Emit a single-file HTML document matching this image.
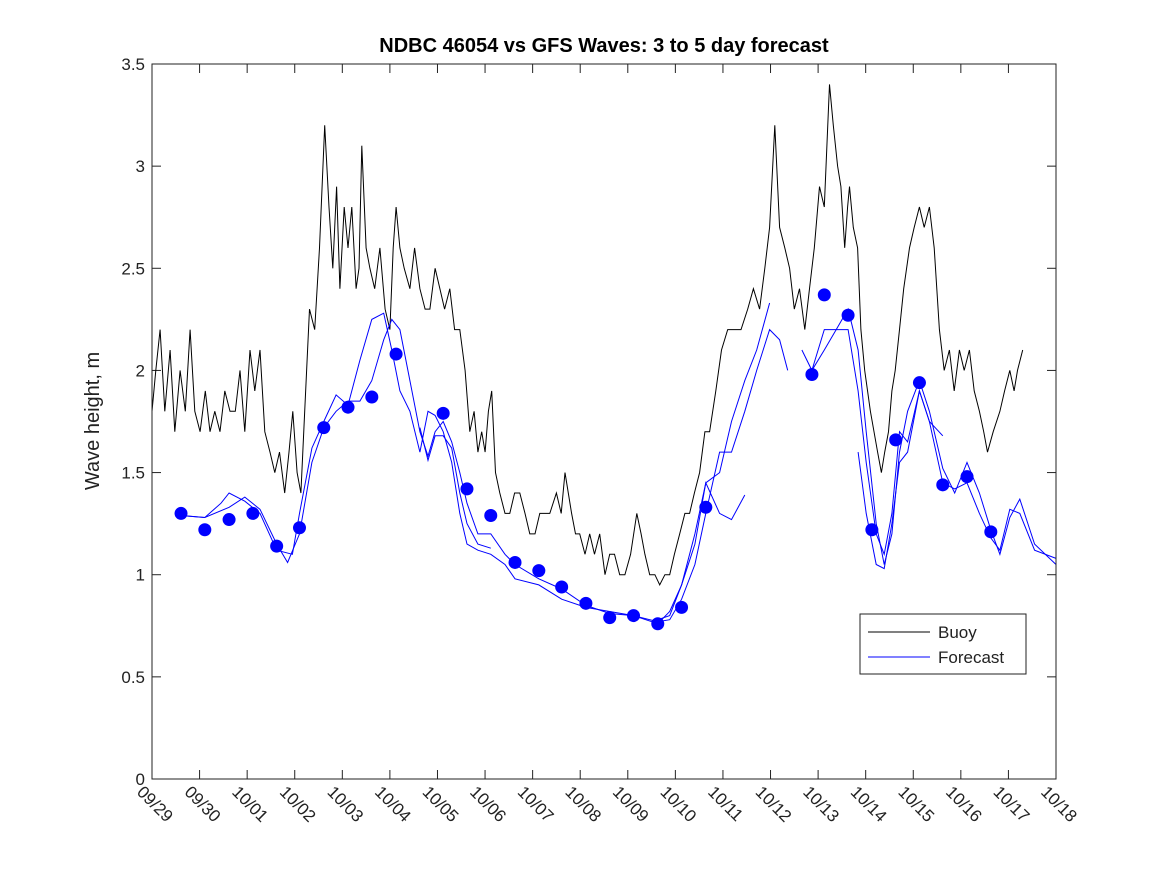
<!DOCTYPE html>
<html><head><meta charset="utf-8"><style>
body{margin:0;background:#fff;}
svg{display:block;font-family:"Liberation Sans","DejaVu Sans",sans-serif;}
</style></head><body>
<svg id="chart" width="1167" height="875" viewBox="0 0 1167 875">
<rect width="1167" height="875" fill="#fff"/>
<text x="604" y="52" text-anchor="middle" font-size="20" font-weight="bold">NDBC 46054 vs GFS Waves: 3 to 5 day forecast</text>
<text transform="translate(99,421) rotate(-90)" text-anchor="middle" font-size="20" fill="#222">Wave height, m</text>
<g id="grid"></g>
<g id="series"></g>
<rect x="152" y="64" width="904" height="715" fill="none" stroke="#222" stroke-width="1"/>
<g>
<rect x="860" y="614" width="166" height="60" fill="#fff" stroke="#222"/>
<line x1="868" y1="632" x2="930" y2="632" stroke="#000"/>
<text x="938" y="638" font-size="17" fill="#222">Buoy</text>
<line x1="868" y1="657" x2="930" y2="657" stroke="#00f"/>
<text x="938" y="663" font-size="17" fill="#222">Forecast</text>
</g>
</svg>
<script>
const xTickLabels=["09/29","09/30","10/01","10/02","10/03","10/04","10/05","10/06","10/07","10/08","10/09","10/10","10/11","10/12","10/13","10/14","10/15","10/16","10/17","10/18"];
const yTicks=[0,0.5,1,1.5,2,2.5,3,3.5];
const yTickLabels=["0","0.5","1","1.5","2","2.5","3","3.5"];
const buoyDay=[0,0.08,0.17,0.27,0.38,0.48,0.59,0.7,0.8,0.9,1.01,1.12,1.22,1.32,1.43,1.53,1.64,1.75,1.85,1.95,2.06,2.16,2.27,2.37,2.48,2.58,2.68,2.79,2.88,2.96,3.05,3.13,3.21,3.31,3.42,3.52,3.63,3.72,3.8,3.88,3.95,4.04,4.12,4.2,4.29,4.35,4.41,4.5,4.58,4.68,4.79,4.9,5.0,5.07,5.13,5.21,5.3,5.42,5.52,5.63,5.74,5.84,5.95,6.05,6.15,6.26,6.36,6.47,6.58,6.68,6.77,6.85,6.93,7.0,7.07,7.14,7.22,7.31,7.42,7.52,7.62,7.73,7.84,7.94,8.05,8.15,8.26,8.36,8.5,8.6,8.68,8.75,8.82,8.9,8.99,9.1,9.2,9.3,9.41,9.52,9.62,9.72,9.83,9.94,10.06,10.19,10.28,10.36,10.46,10.57,10.67,10.78,10.88,10.98,11.09,11.2,11.3,11.4,11.51,11.62,11.72,11.85,11.97,12.1,12.25,12.38,12.52,12.64,12.77,12.88,12.98,13.09,13.19,13.3,13.4,13.5,13.61,13.72,13.82,13.92,14.03,14.13,14.24,14.32,14.41,14.48,14.56,14.62,14.66,14.74,14.83,14.9,14.98,15.1,15.25,15.33,15.4,15.48,15.55,15.62,15.71,15.8,15.92,16.02,16.13,16.23,16.34,16.44,16.55,16.65,16.76,16.86,16.97,17.07,17.18,17.28,17.39,17.48,17.56,17.68,17.82,17.92,18.03,18.12,18.19,18.3];
const buoyVal=[1.8,2.0,2.2,1.8,2.1,1.7,2.0,1.8,2.2,1.8,1.7,1.9,1.7,1.8,1.7,1.9,1.8,1.8,2.0,1.7,2.1,1.9,2.1,1.7,1.6,1.5,1.6,1.4,1.6,1.8,1.5,1.4,1.8,2.3,2.2,2.6,3.2,2.8,2.5,2.9,2.4,2.8,2.6,2.8,2.4,2.5,3.1,2.6,2.5,2.4,2.6,2.3,2.2,2.6,2.8,2.6,2.5,2.4,2.6,2.4,2.3,2.3,2.5,2.4,2.3,2.4,2.2,2.2,2.0,1.7,1.8,1.6,1.7,1.6,1.8,1.9,1.5,1.4,1.3,1.3,1.4,1.4,1.3,1.2,1.2,1.3,1.3,1.3,1.4,1.3,1.5,1.4,1.3,1.2,1.2,1.1,1.2,1.1,1.2,1.0,1.1,1.1,1.0,1.0,1.1,1.3,1.2,1.1,1.0,1.0,0.95,1.0,1.0,1.1,1.2,1.3,1.3,1.4,1.5,1.7,1.7,1.9,2.1,2.2,2.2,2.2,2.3,2.4,2.3,2.5,2.7,3.2,2.7,2.6,2.5,2.3,2.4,2.2,2.4,2.6,2.9,2.8,3.4,3.2,3.0,2.9,2.6,2.8,2.9,2.7,2.6,2.2,2.0,1.8,1.6,1.5,1.6,1.7,1.9,2.0,2.2,2.4,2.6,2.7,2.8,2.7,2.8,2.6,2.2,2.0,2.1,1.9,2.1,2.0,2.1,1.9,1.8,1.7,1.6,1.7,1.8,1.9,2.0,1.9,2.0,2.1,1.8];
const fcADay=[0.61,1.11,1.62,1.95,2.27,2.62,2.85,3.1,3.36,3.61,3.87,4.12,4.37,4.62,4.87,5.04,5.21,5.42,5.63,5.8,5.95,6.12,6.3,6.47,6.62,6.85,7.12,7.42,7.63,8.13,8.61,9.12,9.62,10.12,10.63,10.88,11.13,11.41,11.64,11.93,12.18,12.46,12.71,12.98,13.19,13.36,null,13.87,14.13,14.38,14.63,14.84,15.01,15.22,15.39,15.55,15.71,15.88,16.13,16.34,16.62,16.87,17.13,17.39,17.63,17.82,18.03,18.24,18.55,19.0];
const fcAVal=[1.29,1.28,1.33,1.38,1.32,1.15,1.06,1.2,1.55,1.72,1.80,1.85,1.85,1.95,2.15,2.25,2.20,1.95,1.70,1.58,1.70,1.75,1.65,1.50,1.35,1.20,1.20,1.10,1.05,0.98,0.93,0.85,0.81,0.80,0.77,0.78,0.88,1.05,1.30,1.60,1.60,1.80,2.00,2.20,2.15,2.00,null,2.00,2.20,2.20,2.20,1.90,1.55,1.20,1.10,1.30,1.70,1.65,1.90,1.75,1.45,1.42,1.45,1.30,1.18,1.12,1.32,1.30,1.12,1.08];
const fcBDay=[0.61,1.11,1.45,1.62,1.95,2.27,2.62,2.95,3.1,3.36,3.61,3.87,4.12,4.37,4.62,4.87,5.04,5.21,5.42,5.63,5.8,5.95,6.12,6.3,6.47,6.62,6.85,7.12,7.42,7.63,8.13,8.61,9.12,9.62,10.12,10.63,10.88,11.13,11.41,11.64,11.93,12.18,12.46,12.71,12.98,null,13.66,13.87,14.13,14.38,14.63,14.84,15.01,15.22,15.39,15.55,15.71,15.88,16.13,16.34,16.62,16.87,17.13,17.39,17.63,17.82,18.03,18.24,18.55,19.0];
const fcBVal=[1.29,1.28,1.35,1.40,1.36,1.30,1.12,1.10,1.30,1.62,1.75,1.88,1.83,2.05,2.25,2.28,2.10,1.90,1.80,1.60,1.80,1.78,1.70,1.55,1.30,1.15,1.12,1.10,1.05,0.98,0.95,0.88,0.84,0.82,0.80,0.76,0.82,0.95,1.20,1.45,1.50,1.75,1.95,2.10,2.33,null,2.10,2.00,2.10,2.20,2.30,2.10,1.70,1.25,1.05,1.20,1.60,1.80,1.95,1.80,1.52,1.40,1.55,1.40,1.22,1.10,1.28,1.37,1.15,1.05];
const fcCDay=[5.63,5.8,5.95,6.12,6.3,6.47,6.62,6.85,7.12,null,10.63,10.88,11.13,11.41,11.64,11.93,12.18,12.46,null,14.84,15.01,15.22,15.39,15.55,15.71,15.88,16.13,16.34,16.62];
const fcCVal=[1.72,1.56,1.68,1.68,1.62,1.40,1.25,1.15,1.13,null,0.78,0.80,0.95,1.15,1.45,1.30,1.27,1.39,null,1.60,1.30,1.05,1.03,1.25,1.55,1.60,1.90,1.75,1.68];
const dotDay=[0.61,1.11,1.62,2.12,2.62,3.1,3.61,4.12,4.62,5.13,6.12,6.62,7.12,7.63,8.13,8.61,9.12,9.62,10.12,10.63,11.13,11.64,13.87,14.13,14.63,15.13,15.63,16.13,16.62,17.13,17.63];
const dotVal=[1.30,1.22,1.27,1.30,1.14,1.23,1.72,1.82,1.87,2.08,1.79,1.42,1.29,1.06,1.02,0.94,0.86,0.79,0.80,0.76,0.84,1.33,1.98,2.37,2.27,1.22,1.66,1.94,1.44,1.48,1.21];

const X0=152,X1=1056,Y0=779,Y1=64;
const xs=d=>X0+(X1-X0)*d/19;
const ys=v=>Y0-(Y0-Y1)*v/3.5;
const NS="http://www.w3.org/2000/svg";
const grid=document.getElementById('grid'),ser=document.getElementById('series');
function mk(tag,attrs,parent){const e=document.createElementNS(NS,tag);for(const k in attrs)e.setAttribute(k,attrs[k]);parent.appendChild(e);return e;}
xTickLabels.forEach((lab,i)=>{
  const x=xs(i);
  const t1=mk('line',{x1:x,y1:Y0,x2:x,y2:Y0-9,stroke:'#222'},grid);
  
  
  const t2=mk('line',{x1:x,y1:Y1,x2:x,y2:Y1+9,stroke:'#222'},grid);
  
  
  const tx=mk('text',{x:0,y:0,'font-size':17,fill:'#222',transform:`translate(${x-16},${Y0+14}) rotate(45)`},grid);
  tx.textContent=lab;
  
  
});
yTicks.forEach((v,i)=>{
  const y=ys(v);
  const t1=mk('line',{x1:X0,y1:y,x2:X0+9,y2:y,stroke:'#222'},grid);
  
  
  const t2=mk('line',{x1:X1,y1:y,x2:X1-9,y2:y,stroke:'#222'},grid);
  
  
  const tx=mk('text',{x:X0-7,y:y+6,'font-size':17,fill:'#222','text-anchor':'end'},grid);
  tx.textContent=yTickLabels[i];
  
  
});
function pathOf(days,vals){let d='',pen=false;for(let i=0;i<days.length;i++){if(days[i]===null||vals[i]===null){pen=false;continue;}d+=(pen?'L':'M')+xs(days[i]).toFixed(1)+' '+ys(vals[i]).toFixed(1);pen=true;}return d;}
const pb=mk('path',{d:pathOf(buoyDay,buoyVal),fill:'none',stroke:'#000','stroke-width':1},ser);


const pa=mk('path',{d:pathOf(fcADay,fcAVal),fill:'none',stroke:'#00f','stroke-width':1},ser);


const pB=mk('path',{d:pathOf(fcBDay,fcBVal),fill:'none',stroke:'#00f','stroke-width':1},ser);


const pc=mk('path',{d:pathOf(fcCDay,fcCVal),fill:'none',stroke:'#00f','stroke-width':1},ser);


dotDay.forEach((d,i)=>{
  const c=mk('circle',{cx:xs(d),cy:ys(dotVal[i]),r:6.5,fill:'#00f'},ser);
  
  
});
</script>
</body></html>
